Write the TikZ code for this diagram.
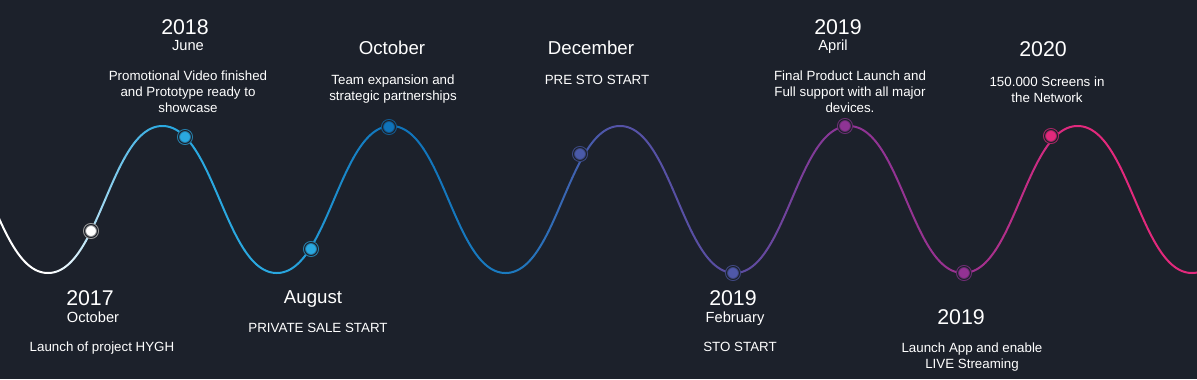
\documentclass[tikz,border=0pt]{standalone}
\usepackage{fontspec}
\setmainfont{Liberation Sans}
\definecolor{bgc}{HTML}{1C212B}
\definecolor{cW}{HTML}{FFFFFF}
\definecolor{cLB}{HTML}{2AA8E0}
\definecolor{cB}{HTML}{0F73BA}
\definecolor{cBt}{HTML}{1A7BC0}
\definecolor{cI}{HTML}{5552A6}
\definecolor{cIt}{HTML}{5A4EA2}
\definecolor{cP}{HTML}{8F3494}
\definecolor{cPt}{HTML}{9A3290}
\definecolor{cK}{HTML}{E2297C}
\definecolor{dI}{HTML}{4A5AA8}
\definecolor{dIt}{HTML}{4F58A8}
\definecolor{dP}{HTML}{8E3494}
\definecolor{dPt}{HTML}{933293}
\tikzset{
  declare function={bx(\t)=3*\t*(1-\t)^2*0.45+3*\t^2*(1-\t)*0.55+\t^3; by(\t)=3*\t^2-2*\t^3;},
  wave/.style={line width=1.5pt, line cap=round},
  dot/.style={circle, inner sep=0pt, minimum size=9.75pt, line width=0.75pt, double=bgc, double distance=0.75pt, fill=#1, draw=#1!70!bgc},
  wdot/.style={circle, inner sep=0pt, minimum size=9.75pt, line width=0.75pt, double=bgc, double distance=0.75pt, fill=white, draw=gray!80},
  txt/.style={text=white, anchor=base, inner sep=0pt},
  yr/.style={txt, font=\fontsize{16}{19}\selectfont},
  ttl/.style={txt, font=\fontsize{14}{17}\selectfont},
  mon/.style={txt, font=\fontsize{11}{13}\selectfont},
  dsc/.style={txt, font=\fontsize{10}{12}\selectfont},
}
\begin{document}
\begin{tikzpicture}[x=0.75pt,y=-0.75pt]
\fill[bgc] (0,0) rectangle (1197,379);
\useasboundingbox (0,0) rectangle (1197,379);
\begin{scope}
\clip (0,0) rectangle (1197,379);
\foreach \xo/\yo/\yi/\ca/\cb in {-66.4/126/273/cW/cW, 48/273/126/cW/cLB, 162.4/126/273/cLB/cLB, 276.8/273/126/cLB/cB, 391.2/126/273/cB/cBt, 505.6/273/126/cBt/cI, 620/126/273/cI/cIt, 734.4/273/126/cIt/cP, 848.8/126/273/cP/cPt, 963.2/273/126/cPt/cK, 1077.6/126/273/cK/cK, 1192/273/126/cK/cK} {
  \foreach \i in {0,...,19} {
    \pgfmathsetmacro\ta{\i/20}
    \pgfmathsetmacro\tb{(\i+1)/20}
    \pgfmathtruncatemacro\p{5*\i+2}
    \draw[wave, color=\cb!\p!\ca] plot[domain=\ta:\tb, samples=5, variable=\t] ({\xo+114.4*bx(\t)}, {\yo+(\yi-\yo)*by(\t)});
  }
}
\end{scope}
% dots
\node[wdot] (d1) at (91,231) {};
\node[dot=cLB] (d2) at (185,137) {};
\node[dot=cLB] (d3) at (311,249) {};
\node[dot=cB] (d4) at (389,127) {};
\node[dot=dI] (d5) at (580,154) {};
\node[dot=dIt] (d6) at (733,273) {};
\node[dot=dP] (d7) at (845,126) {};
\node[dot=dPt] (d8) at (964,273) {};
\node[dot=cK] (d9) at (1051,136) {};
% top labels
\node[yr] (y2018) at (185,34.7) {2018};
\node[mon] (mjun) at (188,50.5) {June};
\node[dsc] (t1a) at (188,80) {Promotional Video finished};
\node[dsc] (t1b) at (188,96) {and Prototype ready to};
\node[dsc] (t1c) at (188,112) {showcase};
\node[ttl] (moct) at (392,54.7) {October};
\node[dsc] (t2a) at (393,84) {Team expansion and};
\node[dsc] (t2b) at (393,100) {strategic partnerships};
\node[ttl] (mdec) at (591,54) {December};
\node[dsc] (t3a) at (597,84) {PRE STO START};
\node[yr] (y2019a) at (838,34.7) {2019};
\node[mon] (mapr) at (833,50.5) {April};
\node[dsc] (t4a) at (850,80) {Final Product Launch and};
\node[dsc] (t4b) at (850,96) {Full support with all major};
\node[dsc] (t4c) at (850,112) {devices.};
\node[yr] (y2020) at (1043,56.7) {2020};
\node[dsc] (t5a) at (1047,86) {150.000 Screens in};
\node[dsc] (t5b) at (1047,102) {the Network};
% bottom labels
\node[yr] (y2017) at (90,305.7) {2017};
\node[mon] (moct2) at (93,322) {October};
\node[dsc] (b1a) at (102,351) {Launch of project HYGH};
\node[ttl] (maug) at (313,303.7) {August};
\node[dsc] (b2a) at (318,332) {PRIVATE SALE START};
\node[yr] (y2019b) at (733,305.7) {2019};
\node[mon] (mfeb) at (735,322) {February};
\node[dsc] (b3a) at (740,351) {STO START};
\node[yr] (y2019c) at (961,324.7) {2019};
\node[dsc] (b4a) at (972,352) {Launch App and enable};
\node[dsc] (b4b) at (972,368) {LIVE Streaming};
\end{tikzpicture}
\end{document}
